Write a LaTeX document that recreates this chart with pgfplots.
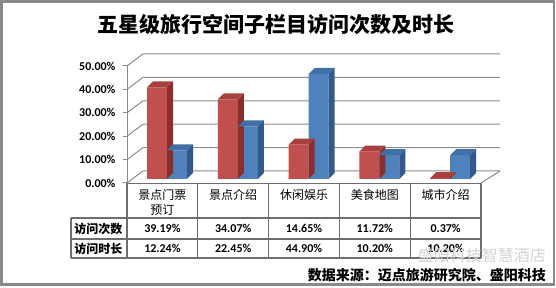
\documentclass[border=0pt]{standalone}
\usepackage{pgfplots}
\pgfplotsset{compat=1.18}
\usepackage{pgfplotstable}
\usepackage{fontspec}
\setmainfont{Carlito}
\newfontfamily\cjk{Noto Sans CJK SC}
\definecolor{redF}{HTML}{C0504D}
\definecolor{redS}{HTML}{8A2F2C}
\definecolor{redT}{HTML}{A8413E}
\definecolor{bluF}{HTML}{4F81BD}
\definecolor{bluS}{HTML}{32598A}
\definecolor{bluT}{HTML}{416FA6}
\definecolor{gridc}{HTML}{8C8C8C}
\definecolor{tabc}{HTML}{6E6E6E}
\definecolor{framec}{HTML}{8A8A8A}

\pgfplotstableread{
x visits duration
0 39.19 12.24
1 34.07 22.45
2 14.65 44.90
3 11.72 10.20
4 0.37 10.20
}\chartdata

% side and top faces of a 3-D column, drawn as a plot mark at (category, value)
\newcommand\drawcuboid[4]{%
  \pgfmathsetlengthmacro\hb{4pt-\barval*2.34pt}%
  \pgfpathmoveto{\pgfpoint{#2}{\hb}}%
  \pgfpathlineto{\pgfpoint{#2+6pt}{\hb+6pt}}%
  \pgfpathlineto{\pgfpoint{#2+6pt}{10pt}}%
  \pgfpathlineto{\pgfpoint{#2}{4pt}}%
  \pgfpathclose
  \pgfsetfillcolor{#3}\pgfusepathqfill
  \pgfpathmoveto{\pgfpoint{#1}{4pt}}%
  \pgfpathlineto{\pgfpoint{#2}{4pt}}%
  \pgfpathlineto{\pgfpoint{#2+6pt}{10pt}}%
  \pgfpathlineto{\pgfpoint{#1+6pt}{10pt}}%
  \pgfpathclose
  \pgfsetfillcolor{#4}\pgfusepathqfill
}
\pgfdeclareplotmark{cubeR}{\drawcuboid{-15.4pt}{4.6pt}{redS}{redT}}
\pgfdeclareplotmark{cubeB}{\drawcuboid{4.6pt}{24.6pt}{bluS}{bluT}}

\begin{document}
\begin{tikzpicture}
% everything outside the axis is placed in image pixels (origin top-left, y downwards)
\begin{scope}[shift={(-127pt,183pt)}, x=1pt, y=-1pt]
\path[use as bounding box] (0,0) rectangle (556,288);
\draw[framec, line width=2.5pt] (1.5,1.5) rectangle (554,284.5);
\node[font=\cjk\bfseries\fontsize{21}{25}\selectfont] at (276,25) {五星级旅行空间子栏目访问次数及时长};
\end{scope}

\begin{axis}[
  anchor=south west,
  x=70.8pt, y=2.34pt,
  xmin=-0.5, xmax=4.5, ymin=0, ymax=50,
  enlargelimits=false, clip=false,
  axis x line=none,
  axis y line*=left,
  y axis line style={gridc, line width=1pt},
  major tick style={gridc, line width=1pt},
  tick align=outside, major tick length=4pt,
  xtick=\empty,
  ytick={0,10,20,30,40,50},
  yticklabels={0.00\%,10.00\%,20.00\%,30.00\%,40.00\%,50.00\%},
  yticklabel style={font=\bfseries\fontsize{12}{12}\selectfont, xshift=-4pt},
]
\pgfplotsinvokeforeach{0,10,20,30,40,50}{
  \draw[gridc, line width=1pt] (axis cs:-0.5,#1) -- ([shift={(16pt,12pt)}]axis cs:-0.5,#1) -- ([shift={(19pt,12pt)}]axis cs:4.5,#1);
}
\draw[gridc, line width=1pt] (axis cs:4.5,0) -- ([shift={(19pt,12pt)}]axis cs:4.5,0);

\addplot[ybar, bar width=20pt, bar shift=-5.4pt, fill=redF, draw=none, yshift=4pt]
  table[x=x, y=visits] {\chartdata};
\addplot[scatter, only marks, mark=cubeR,
  scatter/@pre marker code/.code={}, scatter/@post marker code/.code={},
  visualization depends on={\thisrow{visits} \as \barval}]
  table[x=x, y=visits] {\chartdata};
\addplot[ybar, bar width=20pt, bar shift=14.6pt, fill=bluF, draw=none, yshift=4pt]
  table[x=x, y=duration] {\chartdata};
\addplot[scatter, only marks, mark=cubeB,
  scatter/@pre marker code/.code={}, scatter/@post marker code/.code={},
  visualization depends on={\thisrow{duration} \as \barval}]
  table[x=x, y=duration] {\chartdata};
\end{axis}

\begin{scope}[shift={(-127pt,183pt)}, x=1pt, y=-1pt]
% data table
\begin{scope}[tabc, line width=1.3pt]
\draw (127,183.5) -- (481,183.5);
\draw (71,218) -- (481,218);
\draw (71,239) -- (481,239);
\draw (71,258) -- (481,258);
\draw (71,218) -- (71,258);
\foreach \xx in {127,197.8,268.6,339.4,410.2,481}
  \draw (\xx,183.5) -- (\xx,258);
\end{scope}
\begin{scope}[every node/.style={inner sep=0pt}]
\foreach \xx/\lab in {162.4/{景点门票\\预订},233.2/景点介绍,304/休闲娱乐,374.8/美食地图,445.6/城市介绍}
  \node[anchor=north, align=center, font=\cjk\fontsize{12}{15}\selectfont] at (\xx,189.5) {\lab};
\node[font=\cjk\bfseries\fontsize{12}{12}\selectfont] at (98.5,228.5) {访问次数};
\node[font=\cjk\bfseries\fontsize{12}{12}\selectfont] at (98.5,248.5) {访问时长};
\foreach \xx/\a/\b in {162.4/39.19/12.24,233.2/34.07/22.45,304/14.65/44.90,374.8/11.72/10.20,445.6/0.37/10.20}{
  \node[font=\bfseries\fontsize{12}{12}\selectfont] at (\xx,228.5) {\a\%};
  \node[font=\bfseries\fontsize{12}{12}\selectfont] at (\xx,248.5) {\b\%};
}
\node[font=\cjk\fontsize{16}{16}\selectfont, text=gray!35, anchor=east] at (546,255) {盛阳科技智慧酒店};
\node[font=\cjk\bfseries\fontsize{14}{14}\selectfont, anchor=east] at (546,275) {数据来源：迈点旅游研究院、盛阳科技};
\end{scope}
\end{scope}
\end{tikzpicture}
\end{document}
